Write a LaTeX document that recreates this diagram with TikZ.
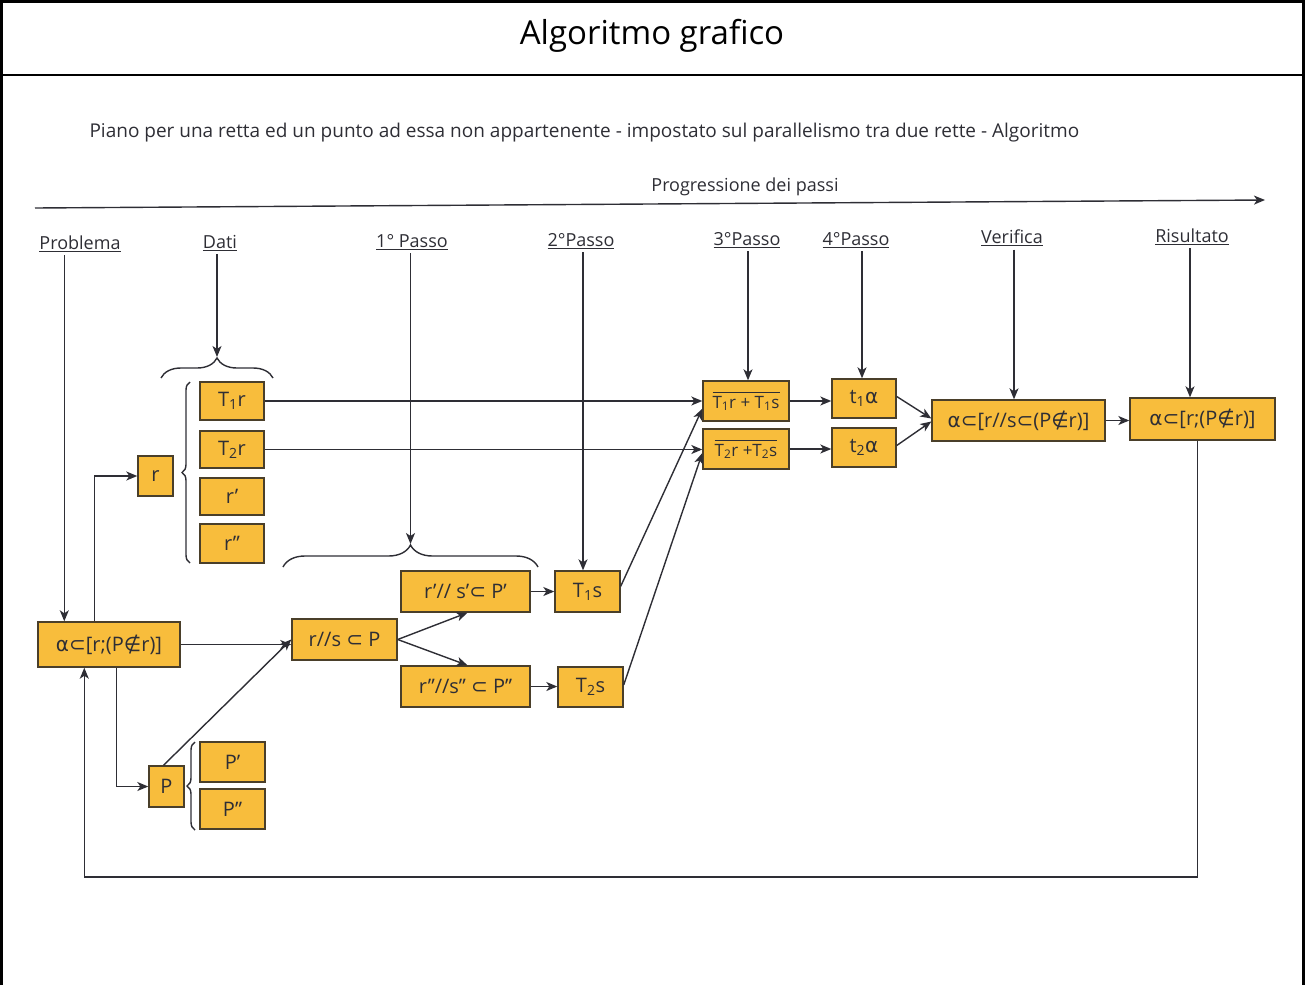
\documentclass[tikz,border=0pt]{standalone}
\usepackage{fontspec}
\setmainfont{Open Sans}
\newfontfamily\symf{DejaVu Sans}
\usetikzlibrary{arrows.meta,calc,decorations.pathreplacing}
\definecolor{boxfill}{HTML}{F8BD3C}
\definecolor{boxline}{HTML}{4A3F2A}
\definecolor{ink}{HTML}{2E2E35}
\newcommand\ssub{{\symf ⊂}}
\newcommand\snotin{{\symf ∉}}
\newcommand\salpha{{\symf α}}
\newcommand\lo[1]{\textsubscript{#1}}
\begin{document}
\begin{tikzpicture}[x=1pt,y=-1pt,
  box/.style={draw=boxline, fill=boxfill, line width=1.4pt, inner sep=0pt, font=\fontsize{20}{24}\selectfont, text=ink},
  arr/.style={draw=ink, line width=1.4pt, -{Stealth[length=11pt,width=9pt,inset=3pt]}},
  head/.style={font=\fontsize{18}{21}\selectfont, text=ink},
  brc/.style={draw=ink, line width=1.4pt, decorate, decoration={brace, amplitude=#1}},
  frame/.style={draw=black, line width=2.5pt},
]
\useasboundingbox (0,0) rectangle (1305,985);
% frame
\draw[frame] (1.5,985) -- (1.5,1.5) -- (1303.5,1.5) -- (1303.5,985);
\draw[frame] (1.5,75) -- (1303.5,75);
\node[font=\fontsize{33}{38}\selectfont] (title) at (652,36) {Algoritmo grafico};
\node[anchor=west, font=\fontsize{19}{23}\selectfont, text=ink] (sub) at (86,133) {Piano per una retta ed un punto ad essa non appartenente - impostato sul parallelismo tra due rette - Algoritmo};
% progression
\coordinate (pa) at (35,208);
\coordinate (pb) at (1265,200);
\draw[arr] (pa) -- (pb);
\node[head] (prog) at (745,187) {Progressione dei passi};
% headers
\node[head] (hProb) at (80,244) {\underline{Problema}};
\node[head] (hDati) at (220,243) {\underline{Dati}};
\node[head] (h1) at (412,242) {\underline{1° Passo}};
\node[head] (h2) at (581,241) {\underline{2°Passo}};
\node[head] (h3) at (747,240) {\underline{3°Passo}};
\node[head] (h4) at (856,240) {\underline{4°Passo}};
\node[head] (hVer) at (1012,238) {\underline{Verifica}};
\node[head] (hRes) at (1192,237) {\underline{Risultato}};
% boxes
\node[box, minimum width=142pt, minimum height=45pt] (main) at (109,644.5) {\salpha\ssub[r;(P\snotin r)]};
\node[box, minimum width=35pt, minimum height=40pt] (r) at (155.5,476) {r};
\node[box, minimum width=64pt, minimum height=38pt] (T1r) at (232,401) {T\lo{1}r};
\node[box, minimum width=64pt, minimum height=37pt] (T2r) at (232,449.5) {T\lo{2}r};
\node[box, minimum width=64pt, minimum height=37pt] (r1) at (232,496.5) {r'};
\node[box, minimum width=64pt, minimum height=39pt] (r2) at (232,543.5) {r''};
\node[box, minimum width=35pt, minimum height=41pt] (P) at (166.5,786.5) {P};
\node[box, minimum width=65pt, minimum height=40pt] (P1) at (232.5,762) {P'};
\node[box, minimum width=65pt, minimum height=40pt] (P2) at (232.5,809) {P''};
\node[box, minimum width=105pt, minimum height=41pt] (rs) at (344.5,639.5) {r//s \ssub{} P};
\node[box, minimum width=129pt, minimum height=41pt] (rs1) at (465.5,591.5) {r'// s'\ssub{} P'};
\node[box, minimum width=129pt, minimum height=41pt] (rs2) at (465.5,686.5) {r''//s'' \ssub{} P''};
\node[box, minimum width=65pt, minimum height=41pt] (T1s) at (587.5,591.5) {T\lo{1}s};
\node[box, minimum width=65pt, minimum height=40pt] (T2s) at (590.5,687) {T\lo{2}s};
\node[box, minimum width=86pt, minimum height=40pt, font=\fontsize{17}{20}\selectfont] (S1) at (746,401) {$\overline{\hbox{T\lo{1}r + T\lo{1}s\rule{0pt}{15pt}}}$};
\node[box, minimum width=86pt, minimum height=40pt, font=\fontsize{17}{20}\selectfont] (S2) at (746,449) {$\overline{\hbox{T\lo{2}r +T\lo{2}s\rule{0pt}{15pt}}}$};
\node[box, minimum width=64pt, minimum height=39pt] (t1) at (864,398.5) {t\lo{1}\salpha};
\node[box, minimum width=64pt, minimum height=39pt] (t2) at (864,447.5) {t\lo{2}\salpha};
\node[box, minimum width=173pt, minimum height=41pt] (ver) at (1018.5,420.5) {\salpha\ssub[r//s\ssub(P\snotin r)]};
\node[box, minimum width=145pt, minimum height=42pt] (res) at (1202.5,419) {\salpha\ssub[r;(P\snotin r)]};
% braces
\coordinate (dL) at (161,378);
\coordinate (dR) at (273,378);
\draw[brc=20pt] (dL) -- (dR);
\coordinate (datiTip) at (217,357);
\coordinate (bTb) at (190,563);
\coordinate (bTt) at (190,382);
\draw[brc=8pt] (bTb) -- (bTt);
\coordinate (bPb) at (195,830);
\coordinate (bPt) at (195,742);
\draw[brc=8pt] (bPb) -- (bPt);
\coordinate (pL) at (283,567);
\coordinate (pR) at (538,567);
\draw[brc=22pt] (pL) -- (pR);
\coordinate (passoTip) at (410.5,544);
% header arrows
\coordinate (mainIn) at ($(main.north west)+(27,0)$);
\draw[arr] (hProb.south -| mainIn) -- (mainIn);
\draw[arr] (hDati.south -| datiTip) -- (datiTip);
\draw[arr] (h1.south -| passoTip) -- (passoTip);
\coordinate (T1sIn) at ($(T1s.north)+(-4.5,0)$);
\draw[arr] (h2.south -| T1sIn) -- (T1sIn);
\coordinate (S1In) at ($(S1.north)+(2,0)$);
\draw[arr] (h3.south -| S1In) -- (S1In);
\coordinate (t1In) at ($(t1.north)+(-2,0)$);
\draw[arr] (h4.south -| t1In) -- (t1In);
\coordinate (verIn) at ($(ver.north)+(-4.5,0)$);
\draw[arr] (hVer.south -| verIn) -- (verIn);
\coordinate (resIn) at ($(res.north)+(-12.5,0)$);
\draw[arr] (hRes.south -| resIn) -- (resIn);
% left part
\coordinate (mainUp) at ($(main.north west)+(57,0)$);
\draw[arr] (mainUp) |- (r.west);
\draw[arr] (main.east) -- (main.east -| rs.west);
\coordinate (mainDn) at ($(main.south west)+(79,0)$);
\draw[arr] (mainDn) |- (P.west);
\coordinate (Pout) at ($(P.north)+(-3,0)$);
\draw[arr] (Pout) -- (rs.west);
% first step
\draw[arr] (rs.east) -- ($(rs1.south)+(2,0)$);
\draw[arr] (rs.east) -- ($(rs2.north)+(2,0)$);
\draw[arr] (rs1.east) -- (rs1.east -| T1s.west);
\draw[arr] (rs2.east) -- (rs2.east -| T2s.west);
% to third step
\draw[arr] (T1r.east) -- (T1r.east -| S1.west);
\draw[arr] (T2r.east) -- (T2r.east -| S2.west);
\draw[arr] ($(T1s.north east)+(0,16)$) -- ($(S1.south west)+(0,-13)$);
\draw[arr] ($(T2s.east)+(0,-2)$) -- ($(S2.west)+(0,4)$);
\draw[arr] (S1.east) -- (S1.east -| t1.west);
\draw[arr] (S2.east) -- (S2.east -| t2.west);
\draw[arr] ($(t1.east)+(0,-2)$) -- ($(ver.west)+(0,-2)$);
\draw[arr] ($(t2.east)+(0,-2)$) -- ($(ver.west)+(0,1)$);
\draw[arr] (ver.east) -- (ver.east -| res.west);
% loop back
\coordinate (resOut) at ($(res.south)+(-5,0)$);
\coordinate (loopY) at (0,877);
\coordinate (mainBack) at ($(main.south west)+(47,0)$);
\draw[arr] (resOut) |- (loopY -| mainBack) -- (mainBack);
\end{tikzpicture}
\end{document}
